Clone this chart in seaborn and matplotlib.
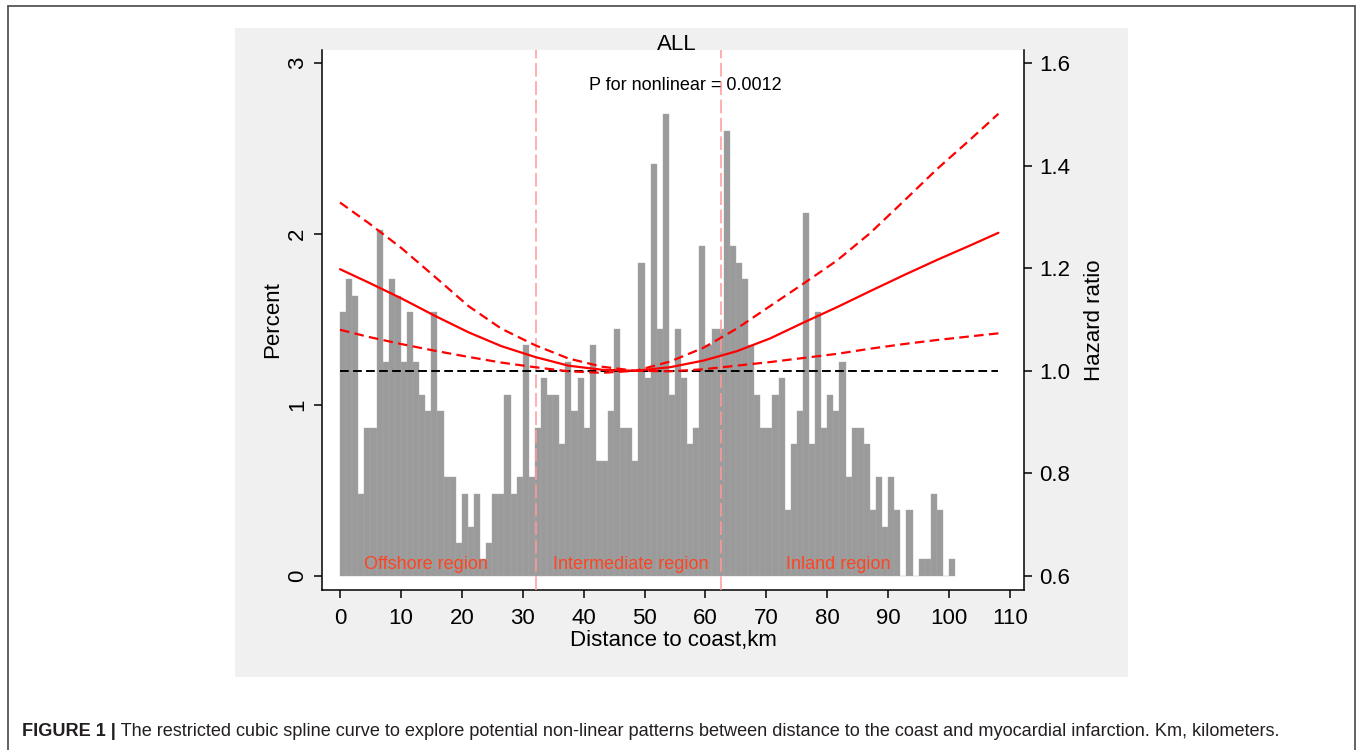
import matplotlib
matplotlib.use("Agg")
import matplotlib.pyplot as plt
from matplotlib.lines import Line2D
from matplotlib.patches import Rectangle
import numpy as np
import pandas as pd
import seaborn as sns

# cases per 1-km distance band: 0-1, 1-2, ..., 100-101 km
bin_start_km = list(range(0, 101))
case_counts = [
    16, 18, 17, 5, 9, 9, 21, 13, 18, 17,
    13, 16, 13, 11, 10, 16, 10, 6, 6, 2,
    5, 3, 5, 1, 2, 5, 5, 11, 5, 6,
    14, 6, 9, 12, 11, 11, 8, 13, 10, 12,
    9, 14, 7, 7, 10, 15, 9, 9, 7, 19,
    12, 25, 15, 28, 11, 15, 12, 8, 9, 20,
    14, 15, 15, 27, 20, 19, 18, 14, 11, 9,
    9, 11, 12, 4, 8, 10, 22, 8, 16, 9,
    11, 10, 13, 6, 9, 9, 8, 4, 6, 3,
    6, 4, 0, 4, 0, 1, 1, 5, 4, 0,
    1,
]

# restricted cubic spline (hazard ratio and 95% CI)
spline_km = [0, 4.7, 10.1, 15.6, 21.1, 26.5, 32.0, 37.5, 43.0, 48.5,
             54.2, 59.7, 65.1, 70.6, 76.1, 81.6, 87.0, 92.5, 98.0, 103.4, 108.1]
hr_est = [1.198, 1.172, 1.141, 1.107, 1.075, 1.048, 1.027, 1.010, 1.002, 1.000,
          1.007, 1.020, 1.038, 1.063, 1.094, 1.124, 1.155, 1.186, 1.216, 1.244, 1.269]
hr_upper = [1.328, 1.288, 1.239, 1.183, 1.126, 1.082, 1.050, 1.024, 1.008, 1.000,
            1.018, 1.045, 1.082, 1.126, 1.170, 1.215, 1.268, 1.330, 1.393, 1.450, 1.501]
hr_lower = [1.080, 1.066, 1.052, 1.039, 1.027, 1.016, 1.007, 0.999, 0.996, 1.000,
            0.999, 1.003, 1.010, 1.017, 1.025, 1.033, 1.043, 1.052, 1.060, 1.067, 1.073]

region_cuts_km = [32.1, 62.6]
region_names = ["Offshore region", "Intermediate region", "Inland region"]
region_label_km = [14.1, 47.8, 81.8]

x_ticks = list(range(0, 111, 10))
pct_ticks = [0, 1, 2, 3]
hr_ticks = [0.6, 0.8, 1.0, 1.2, 1.4, 1.6]

caption_head = "FIGURE 1 |"
caption_body = (" The restricted cubic spline curve to explore potential non-linear patterns "
                "between distance to the coast and myocardial infarction. Km, kilometers.")

W, H = 1357, 750
sns.set_style("ticks")
plt.rcParams["font.family"] = ["Liberation Sans", "DejaVu Sans"]
plt.rcParams["text.color"] = "black"
plt.rcParams["axes.labelcolor"] = "black"

fig = plt.figure(figsize=(W / 100, H / 100), dpi=100)

# grey graph region behind the plot, and the outer frame of the figure
fig.patches.append(Rectangle((235 / W, 1 - 677 / H), (1128 - 235) / W, (677 - 28) / H,
                             transform=fig.transFigure, facecolor="#f0f0f0",
                             edgecolor="none", zorder=-5))
frame_kw = dict(transform=fig.transFigure, color="#555555", lw=1.3)
fig.add_artist(Line2D([8 / W, 8 / W], [0, 1 - 6 / H], **frame_kw))
fig.add_artist(Line2D([8 / W, 1355 / W], [1 - 6 / H, 1 - 6 / H], **frame_kw))
fig.add_artist(Line2D([1355 / W, 1355 / W], [0, 1 - 6 / H], **frame_kw))

ax = fig.add_axes([322 / W, 1 - 590 / H, (1024 - 322) / W, (590 - 50) / H])
ax.set_facecolor("white")

hist_df = pd.DataFrame({"km": np.array(bin_start_km) + 0.5, "cases": case_counts})
sns.histplot(data=hist_df, x="km", weights="cases", binwidth=1,
             binrange=(bin_start_km[0], bin_start_km[-1] + 1), stat="percent",
             color="#9b9b9b", edgecolor="#a9a9a9", linewidth=0.3, alpha=1, ax=ax)

for cut in region_cuts_km:
    ax.axvline(cut, color="#ff9a9a", lw=1.1, linestyle=(0, (9, 3)), zorder=3)

for name, km in zip(region_names, region_label_km):
    ax.text(km, 0.066, name, color="#ff4422", fontsize=13, ha="center", va="center",
            zorder=4)

ax.set_xlim(-2.96, 112.3)
ax.set_ylim(-0.082, 3.076)
ax.set_xticks(x_ticks)
ax.set_yticks(pct_ticks)
ax.set_yticklabels([str(t) for t in pct_ticks], rotation=90, va="center")
ax.set_xlabel("Distance to coast,km", fontsize=16, labelpad=1)
ax.set_ylabel("Percent", fontsize=16, labelpad=3)
ax.tick_params(axis="both", length=6, width=1.1, color="black", labelsize=16,
               labelcolor="black")
ax.tick_params(axis="x", pad=7)
ax.tick_params(axis="y", pad=4)
for side in ["top", "right"]:
    ax.spines[side].set_visible(False)
for side in ["left", "bottom"]:
    ax.spines[side].set_linewidth(1.1)
    ax.spines[side].set_color("black")

ax2 = ax.twinx()
ax2.hlines(1.0, spline_km[0], spline_km[-1], color="black", lw=1.4,
           linestyle=(0, (4.5, 2.2)), zorder=2)
sns.lineplot(x=spline_km, y=hr_upper, ax=ax2, color="red", lw=1.6,
             linestyle=(0, (4.3, 2.4)))
sns.lineplot(x=spline_km, y=hr_est, ax=ax2, color="red", lw=1.6)
sns.lineplot(x=spline_km, y=hr_lower, ax=ax2, color="red", lw=1.6,
             linestyle=(0, (4.3, 2.4)))
ax2.set_ylim(0.5727, 1.6253)
ax2.set_yticks(hr_ticks)
ax2.set_yticklabels([f"{t:.1f}" for t in hr_ticks])
ax2.set_ylabel("Hazard ratio", fontsize=16, labelpad=10)
ax2.tick_params(axis="y", length=6, width=1.1, color="black", labelsize=16, pad=5,
                labelcolor="black")
for side in ["top", "left", "bottom"]:
    ax2.spines[side].set_visible(False)
ax2.spines["right"].set_linewidth(1.1)
ax2.spines["right"].set_color("black")

fig.text(677 / W, 1 - 44 / H, "ALL", fontsize=16, ha="center", va="center")
ax.text(0.517, 0.935, "P for nonlinear = 0.0012", transform=ax.transAxes,
        fontsize=13, ha="center", va="center", zorder=5)

# caption: bold figure number followed by the plain sentence
head = fig.text(22 / W, 1 - 731 / H, caption_head, fontsize=13.1, fontweight="bold",
                color="#231f20", ha="left", va="center")
renderer = fig.canvas.get_renderer()
bb = head.get_window_extent(renderer=renderer)
fig.text(bb.x1 / W, 1 - 731 / H, caption_body, fontsize=13.1, color="#231f20",
         ha="left", va="center")

fig.savefig("out.png", dpi=100)
